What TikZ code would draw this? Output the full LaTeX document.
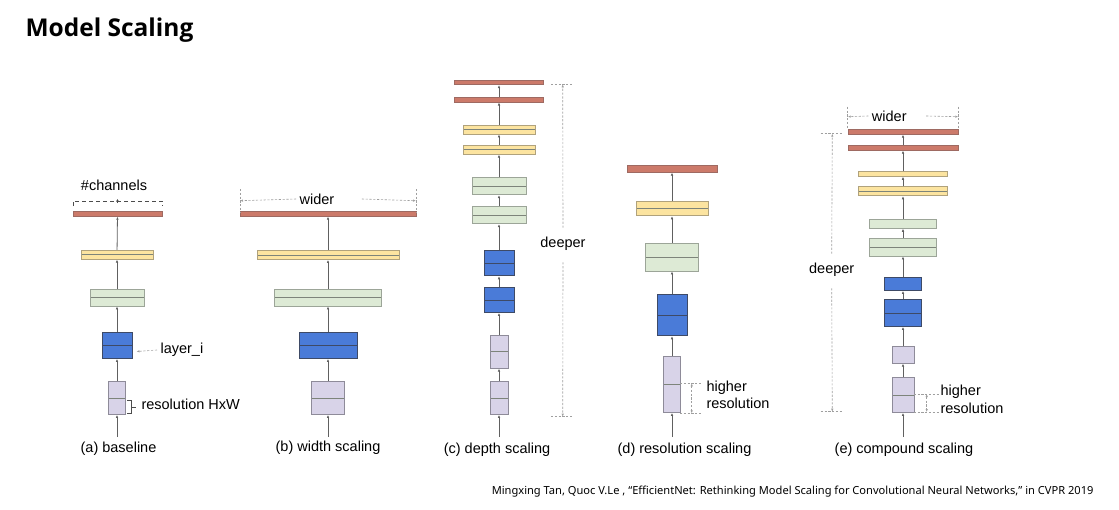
\documentclass[tikz,border=0pt]{standalone}
\usepackage{fontspec}
\setmainfont{Liberation Sans}
\newfontfamily\headfont{Open Sans}
\newfontfamily\citefont{Noto Sans}
\usepackage{tikz}
\usetikzlibrary{positioning, arrows.meta}
\definecolor{barRed}{HTML}{CC7A6A}
\definecolor{edgeRed}{HTML}{9E6A62}
\definecolor{barYlw}{HTML}{FCE4A0}
\definecolor{edgeYlw}{HTML}{B0A27C}
\definecolor{barGrn}{HTML}{DDEAD5}
\definecolor{edgeGrn}{HTML}{9CA598}
\definecolor{barBlu}{HTML}{4A7BD8}
\definecolor{edgeBlu}{HTML}{3E4A66}
\definecolor{barPur}{HTML}{D8D3E8}
\definecolor{edgePur}{HTML}{8E8B99}

\begin{document}
\begin{tikzpicture}[x=1pt, y=-1pt,
    font=\fontsize{14.5}{17.5}\selectfont,
    sz/.style 2 args={inner sep=0pt, line width=0.9pt, minimum width=#1pt, minimum height=#2pt},
    mid/.style={path picture={\draw[line width=0.9pt, #1]
      (path picture bounding box.west) -- (path picture bounding box.east);}},
    mid/.default=edgeGrn!80!black,
    redbar/.style={fill=barRed, draw=edgeRed},
    ylwbar/.style={fill=barYlw, draw=edgeYlw},
    grnbar/.style={fill=barGrn, draw=edgeGrn},
    blubar/.style={fill=barBlu, draw=edgeBlu},
    purbar/.style={fill=barPur, draw=edgePur},
    flow/.style={-{Latex[length=3pt, width=2.6pt]}, draw=gray!75!black, line width=0.8pt},
    dim/.style={draw=gray!75, line width=0.6pt, dash pattern=on 2.2pt off 1.6pt},
    dimarr/.style={dim, -{Latex[length=3pt, width=2.4pt]}},
    dimboth/.style={dim, {Latex[length=3pt, width=2.4pt]}-{Latex[length=3pt, width=2.4pt]}}]
    \useasboundingbox (0,0) rectangle (1119,509);
    % --- title and reference ---
    \node[font=\headfont\bfseries\fontsize{24.5}{30}\selectfont, anchor=west] (title) at (22,30) {Model Scaling};
    \node[font=\citefont\fontsize{11.1}{13}\selectfont, anchor=east] (cite) at (1097,492)
      {Mingxing Tan, Quoc V.Le , “EfficientNet: Rethinking Model Scaling for Convolutional Neural Networks,” in CVPR 2019};
    \def\ax{117} \def\bx{328} \def\cx{499} \def\dx{672} \def\ex{903}
    % --- (a) baseline ---
    \node[purbar, sz={17}{33}, mid] (a1) at (\ax,398) {};
    \node[blubar, sz={30}{26}, mid=edgeBlu] (a2) at (\ax,345.5) {};
    \node[grnbar, sz={54}{17}, mid] (a3) at (\ax,297.5) {};
    \node[ylwbar, sz={72}{9}, mid] (a4) at (\ax,254.7) {};
    \node[redbar, sz={89}{4.5}] (a5) at (\ax+0.5,214) {};
    % --- (b) width scaling ---
    \node[purbar, sz={33}{33}, mid] (b1) at (\bx,398) {};
    \node[blubar, sz={58}{26}, mid=edgeBlu] (b2) at (\bx,345.5) {};
    \node[grnbar, sz={107}{17}, mid] (b3) at (\bx,297.5) {};
    \node[ylwbar, sz={142}{9}, mid] (b4) at (\bx,255) {};
    \node[redbar, sz={176}{4.5}] (b5) at (\bx,214) {};
    % --- (c) depth scaling ---
    \node[purbar, sz={18}{33}, mid] (c1) at (\cx,398) {};
    \node[purbar, sz={18}{33}, mid] (c2) at (\cx,351.7) {};
    \node[blubar, sz={30}{25}, mid=edgeBlu] (c3) at (\cx,300) {};
    \node[blubar, sz={30}{25}, mid=edgeBlu] (c4) at (\cx,263.3) {};
    \node[grnbar, sz={54}{17}, mid] (c5) at (\cx,215.2) {};
    \node[grnbar, sz={54}{17}, mid] (c6) at (\cx,186.2) {};
    \node[ylwbar, sz={72}{9}, mid] (c7) at (\cx,149.7) {};
    \node[ylwbar, sz={72}{9}, mid] (c8) at (\cx,129.5) {};
    \node[redbar, sz={89}{4.7}] (c9) at (\cx,99.7) {};
    \node[redbar, sz={89}{4.7}] (c10) at (\cx,82.3) {};
    % --- (d) resolution scaling ---
    \node[purbar, sz={17}{56}, mid] (d1) at (\dx,384.5) {};
    \node[blubar, sz={30}{41}, mid=edgeBlu] (d2) at (\dx,315.3) {};
    \node[grnbar, sz={53}{28}, mid] (d3) at (\dx,257) {};
    \node[ylwbar, sz={72}{14}, mid] (d4) at (\dx,208.8) {};
    \node[redbar, sz={90}{7}] (d5) at (\dx,168.7) {};
    % --- (e) compound scaling ---
    \node[purbar, sz={22}{35}, mid] (e1) at (\ex,395) {};
    \node[purbar, sz={22}{17}] (e2) at (\ex,354.7) {};
    \node[blubar, sz={37}{27}, mid=edgeBlu] (e3) at (\ex,313) {};
    \node[blubar, sz={37}{13}] (e4) at (\ex,284) {};
    \node[grnbar, sz={67}{18}, mid] (e5) at (\ex,247) {};
    \node[grnbar, sz={67}{9}] (e6) at (\ex,223.8) {};
    \node[ylwbar, sz={89}{9}, mid] (e7) at (\ex,191.3) {};
    \node[ylwbar, sz={89}{4.6}] (e8) at (\ex,174) {};
    \node[redbar, sz={110}{4.5}] (e9) at (\ex,148) {};
    \node[redbar, sz={110}{4.5}] (e10) at (\ex,132) {};
    % --- inputs and arrows between layers ---
    \foreach \c/\x in {a/\ax,b/\bx,c/\cx,d/\dx,e/\ex} \coordinate (\c0) at (\x,437);
    \foreach \c/\n in {a/5,b/5,c/10,d/5,e/10}
      \foreach \i in {1,...,\n} {
        \pgfmathtruncatemacro\k{\i-1}
        \draw[flow] (\c\k) -- (\c\i);
      }
    % --- annotations (a) ---
    \node (chan) at (114,185) {\#channels};
    \draw[draw=gray!60!black, line width=1pt, dash pattern=on 4pt off 3pt]
      (73,206) -- (73,201) -- (162,201) -- (162,206);
    \draw[draw=gray!60!black, line width=0.8pt, -{Latex[length=2.5pt, width=3pt]}] (117.5,203) -- (117.5,199);
    \node[anchor=west] (lay) at (157,350) {layer\_i};
    \draw[dimarr] (lay.west) -- (136.5,351.5);
    \draw[draw=gray!60!black, line width=1pt] (127,400) -- (131,400) -- (131,413.5) -- (127,413.5)
      (131,407) -- (136,407);
    \node[anchor=west] (resHW) at (138,404) {resolution HxW};
    % --- annotations (b) ---
    \node (widB) at (317,199) {wider};
    \draw[dim] (240,189) -- (240,212) (416,189) -- (416,212);
    \draw[dimarr] (widB.west) -- (240,200.7);
    \draw[dimarr] ([xshift=24pt]widB.east) -- (416,200.7);
    % --- annotations (c) ---
    \node (deepC) at (563,244) {deeper};
    \draw[dim] (551,84.3) -- (573,84.3) (551,416.7) -- (573,416.7);
    \draw[dimarr] ([yshift=6pt]deepC.north) -- (562.7,84.3);
    \draw[dimarr] ([yshift=-8pt]deepC.south) -- (562.7,416.7);
    % --- annotations (d) ---
    \draw[dim] (680,383.3) -- (702,383.3) (680,413.3) -- (702,413.3);
    \draw[dimboth] (691.7,383.3) -- (691.7,413.3);
    \node[anchor=west, align=left] (hiD) at (703,395) {higher\\resolution};
    % --- annotations (e) ---
    \node (widE) at (889.3,116) {wider};
    \draw[dim] (847.7,106.7) -- (847.7,128) (958.3,106.7) -- (958.3,128);
    \draw[dimarr] (widE.west) -- (847.7,116.7);
    \draw[dimarr] ([xshift=16pt]widE.east) -- (958.3,116.7);
    \node (deepE) at (831.7,270) {deeper};
    \draw[dim] (820.7,133.7) -- (842.3,133.7) (820.7,411.7) -- (842.3,411.7);
    \draw[dimarr] ([yshift=6pt]deepE.north) -- (832.3,133.7);
    \draw[dimarr] ([yshift=-8pt]deepE.south) -- (832.3,411.7);
    \draw[dim] (913.7,394) -- (939,394) (913.7,412) -- (939,412);
    \draw[dimboth] (926.7,394) -- (926.7,412);
    \node[anchor=west, align=left] (hiE) at (937,399.5) {higher\\resolution};
    % --- captions ---
    \node (capA) at (118.5,449) {(a) baseline};
    \node (capB) at (328,448) {(b) width scaling};
    \node (capC) at (497,450) {(c) depth scaling};
    \node (capD) at (684.5,450) {(d) resolution scaling};
    \node (capE) at (904,450) {(e) compound scaling};
  \end{tikzpicture}
\end{document}
